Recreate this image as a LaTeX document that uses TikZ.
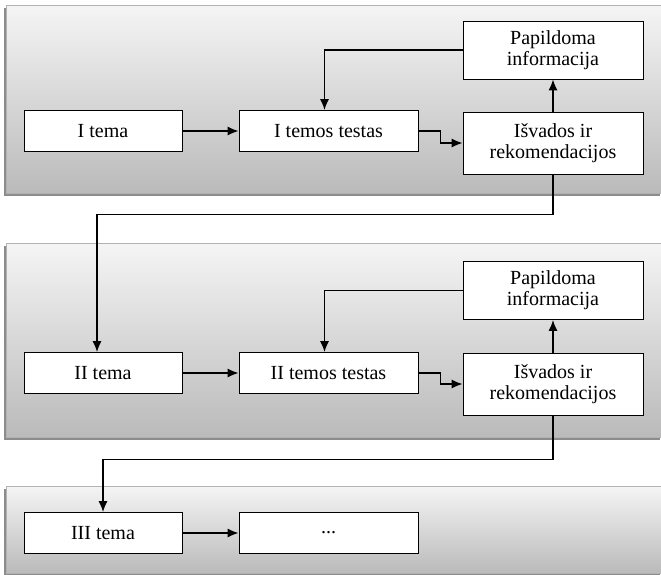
\documentclass[tikz,border=0pt]{standalone}
\usepackage{fontspec}
\setmainfont{Liberation Serif}
\usetikzlibrary{calc, arrows.meta}
\tikzset{
  blok/.style={draw, fill=white, line width=0.8pt, align=center,
    font=\rmfamily\fontsize{20}{21}\selectfont, inner sep=2pt},
  siaura/.style={blok, minimum width=158, minimum height=41},
  placi/.style={blok, minimum width=179, minimum height=41},
  plati/.style={blok, minimum width=180, minimum height=62},
  linija/.style={-{Latex[length=11pt,width=9pt]}, line width=1.4pt}
}

\begin{document}
\begin{tikzpicture}[x=1pt, y=-1pt]
  \useasboundingbox (0,0) rectangle (661,574);

  % PANELS
  \foreach \t/\b in {5/193, 243/437, 486/573}{
    \fill[black!45] (4,\t+3) rectangle (660,\b+3);
    \shade[top color=white!96!black, bottom color=black!27, draw=black!30]
      (6,\t) rectangle (661,\b);
  }

  % ROW 1
  \node[siaura] (tema1)   at (103,131) {I tema};
  \node[placi]  (testas1) at (328.5,131) {I temos testas};
  \node[plati]  (isvad1)  at (553,143) {Išvados ir\\rekomendacijos};
  \node[plati, minimum height=58] (papild1) at (553,50) {Papildoma\\informacija};

  % ROW 2
  \node[siaura] (tema2)   at (103,373) {II tema};
  \node[placi]  (testas2) at (328.5,373) {II temos testas};
  \node[plati]  (isvad2)  at (553,384) {Išvados ir\\rekomendacijos};
  \node[plati, minimum height=58] (papild2) at (553,290.5) {Papildoma\\informacija};

  % ROW 3
  \node[siaura] (tema3)   at (103,533) {III tema};
  \node[placi]  (kitas3)  at (328.5,533) {...};

  % ARROWS
  \foreach \i in {1,2}{
    \draw[linija] (tema\i) -- (testas\i);
    \draw[linija] (testas\i.east) -- ++(22,0) |- (isvad\i.west);
    \draw[linija] (isvad\i) -- (papild\i);
    \draw[linija] (papild\i.west) -| ($(testas\i.north)+(-4,0)$);
  }
  \draw[linija] (isvad1.south) -- ++(0,40) coordinate (k1) -| ($(tema2.north)+(-6,0)$);
  \draw[linija] (isvad2.south) -- ++(0,44) coordinate (k2) -| (tema3.north);
  \draw[linija] (tema3) -- (kitas3);
\end{tikzpicture}
\end{document}
